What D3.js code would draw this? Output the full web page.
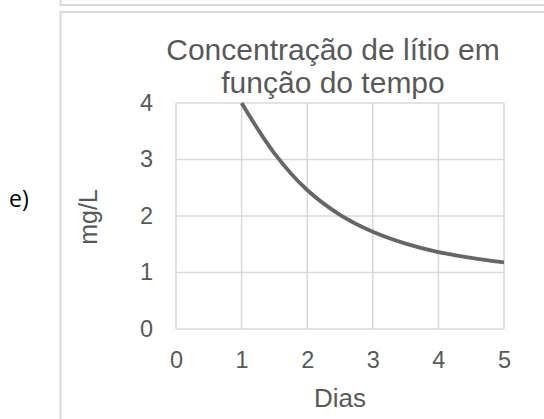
<!DOCTYPE html>
<html>
<head>
<meta charset="utf-8">
<script src="https://cdn.jsdelivr.net/npm/d3@7"></script>
<style>
  html, body { margin: 0; padding: 0; background: #fff; }
  svg { display: block; }
</style>
</head>
<body>
<svg id="chart" width="544" height="419"></svg>
<script>
const titleLines = ["Concentração de lítio em", "função do tempo"];
const xTitle = "Dias";
const yTitle = "mg/L";
const panelLabel = "e)";
const xTicks = [0, 1, 2, 3, 4, 5];
const yTicks = [0, 1, 2, 3, 4];
const days = [1, 1.5, 2, 2.5, 3, 3.5, 4, 4.5, 5];
const conc = [4, 3.11, 2.46, 2.02, 1.72, 1.51, 1.36, 1.26, 1.18];

const svg = d3.select("#chart");
const grid = "#d9d9d9";
const textCol = "#595959";

// Frames
svg.append("rect").attr("x", 60.5).attr("y", -20).attr("width", 600).attr("height", 25)
  .attr("fill", "none").attr("stroke", grid).attr("stroke-width", 2);
svg.append("rect").attr("x", 60.5).attr("y", 12).attr("width", 600).attr("height", 440)
  .attr("fill", "none").attr("stroke", grid).attr("stroke-width", 2);

svg.append("text").attr("x", 9).attr("y", 207)
  .attr("font-family", "'Open Sans', 'Noto Sans', sans-serif").attr("font-size", 23)
  .attr("fill", "#000").text(panelLabel);

const x = d3.scaleLinear().domain([0, 5]).range([176, 504]);
const y = d3.scaleLinear().domain([0, 4]).range([329, 103]);

// Gridlines
svg.append("g").selectAll("line.v").data(xTicks).join("line")
  .attr("x1", d => x(d)).attr("x2", d => x(d)).attr("y1", y(0)).attr("y2", y(4))
  .attr("stroke", grid).attr("stroke-width", 1.5);
svg.append("g").selectAll("line.h").data(yTicks).join("line")
  .attr("x1", x(0)).attr("x2", x(5)).attr("y1", d => y(d)).attr("y2", d => y(d))
  .attr("stroke", grid).attr("stroke-width", 1.5);

const font = "'Liberation Sans', Arial, sans-serif";

// Axes labels via d3 axes
const xAxis = svg.append("g").attr("transform", `translate(0,${y(0)})`)
  .call(d3.axisBottom(x).tickValues(xTicks).tickSize(0).tickPadding(0).tickFormat(d3.format("d")));
xAxis.select(".domain").remove();
xAxis.selectAll("text").attr("dy", null).attr("y", 39)
  .attr("font-family", font).attr("font-size", 23.5).attr("fill", textCol);

const yAxis = svg.append("g").attr("transform", `translate(153,0)`)
  .call(d3.axisLeft(y).tickValues(yTicks).tickSize(0).tickPadding(0).tickFormat(d3.format("d")));
yAxis.select(".domain").remove();
yAxis.selectAll("text").attr("x", 0).attr("dy", "0.3em")
  .attr("font-family", font).attr("font-size", 23.5).attr("fill", textCol);

// Line
const line = d3.line().x(d => x(d[0])).y(d => y(d[1])).curve(d3.curveCatmullRom.alpha(0.5));
svg.append("path").datum(days.map((d, i) => [d, conc[i]]))
  .attr("d", line).attr("fill", "none").attr("stroke", "#666666")
  .attr("stroke-width", 3.8).attr("stroke-linecap", "butt");

// Titles
svg.append("g").selectAll("text").data(titleLines).join("text")
  .attr("x", 333).attr("y", (d, i) => 60 + i * 33)
  .attr("text-anchor", "middle").attr("font-family", font).attr("font-size", 30)
  .attr("fill", textCol).text(d => d);

svg.append("text").attr("x", 340).attr("y", 407).attr("text-anchor", "middle")
  .attr("font-family", font).attr("font-size", 26).attr("fill", textCol).text(xTitle);

svg.append("text").attr("transform", "translate(97,217) rotate(-90)").attr("text-anchor", "middle")
  .attr("font-family", font).attr("font-size", 25).attr("fill", textCol).text(yTitle);
</script>
</body>
</html>
